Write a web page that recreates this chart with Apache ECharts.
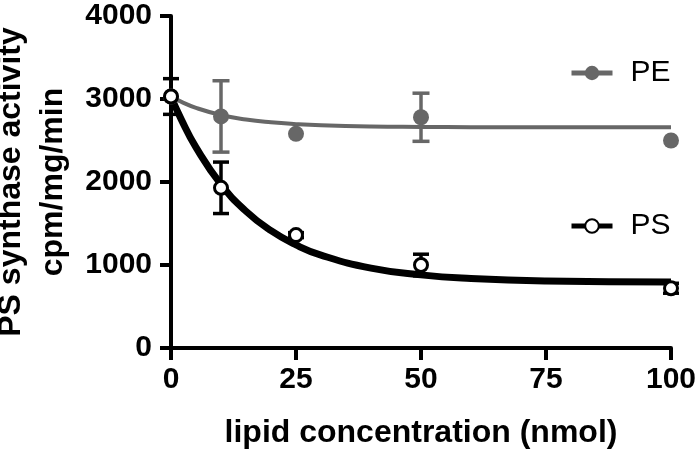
<!DOCTYPE html>
<html>
<head>
<meta charset="utf-8">
<script src="https://cdn.jsdelivr.net/npm/echarts@6/dist/echarts.min.js"></script>
<style>
  html, body { margin: 0; padding: 0; background: #fff; }
  #chart { width: 697px; height: 453px; }
</style>
</head>
<body>
<div id="chart"></div>
<script>
// measured points (mean +/- error)
var conc = [0, 10, 25, 50, 100];
var peMean = [3030, 2790, 2580, 2780, 2500];
var peErr = [0, 430, 0, 290, 0];
var psMean = [3030, 1930, 1360, 1000, 720];
var psErr = [215, 310, 30, 130, 60];

// fitted curves
var fitX = [0, 2, 5, 10, 15, 20, 25, 30, 40, 50, 60, 75, 100];
var peFit = [3030, 2968, 2893, 2807, 2753, 2719, 2697, 2683, 2669, 2664, 2661, 2660, 2660];
var psFit = [3030, 2761, 2417, 1971, 1648, 1413, 1242, 1119, 963, 881, 838, 808, 794];

var xTicks = [0, 25, 50, 75, 100];
var yTicks = [0, 1000, 2000, 3000, 4000];

var FONT = '"Liberation Sans", Arial, sans-serif';
var GRAY = '#676767';

function pairs(xs, ys) {
    return xs.map(function (x, i) { return [x, ys[i]]; });
}
function errData(mean, err) {
    var out = [];
    conc.forEach(function (x, i) {
        if (err[i] > 0) out.push([x, mean[i] - err[i], mean[i] + err[i]]);
    });
    return out;
}

function errorBar(color, capW, lw) {
    return function (params, api) {
        var x = api.value(0);
        var lo = api.coord([x, api.value(1)]);
        var hi = api.coord([x, api.value(2)]);
        var h = capW / 2;
        var style = { stroke: color, lineWidth: lw, fill: null };
        return {
            type: 'group',
            children: [
                { type: 'line', shape: { x1: lo[0], y1: lo[1], x2: hi[0], y2: hi[1] }, style: style },
                { type: 'line', shape: { x1: hi[0] - h, y1: hi[1], x2: hi[0] + h, y2: hi[1] }, style: style },
                { type: 'line', shape: { x1: lo[0] - h, y1: lo[1], x2: lo[0] + h, y2: lo[1] }, style: style }
            ]
        };
    };
}

var myChart = echarts.init(document.getElementById('chart'));
var option = {
    animation: false,
    backgroundColor: '#fff',
    textStyle: { fontFamily: FONT },
    grid: { left: 171, right: 26, top: 16, bottom: 105, outerBoundsMode: 'none', containLabel: false },
    legend: [
        {
            data: ['PE'], left: 564, top: 53,
            itemWidth: 41, itemHeight: 18,
            lineStyle: { width: 5 },
            textStyle: { fontSize: 30, color: '#000', fontFamily: FONT, padding: [0, 0, 0, 13] }
        },
        {
            data: ['PS'], left: 564, top: 206,
            itemWidth: 41, itemHeight: 17,
            lineStyle: { width: 5 },
            textStyle: { fontSize: 30, color: '#000', fontFamily: FONT, padding: [0, 0, 0, 13] }
        }
    ],
    xAxis: {
        type: 'value', min: 0, max: 100, interval: 25,
        name: 'lipid concentration (nmol)',
        nameLocation: 'middle', nameGap: 69,
        nameTextStyle: { fontSize: 32, fontWeight: 'bold', color: '#000', fontFamily: FONT },
        axisLine: { lineStyle: { color: '#000', width: 4 } },
        axisTick: { length: 12, lineStyle: { color: '#000', width: 4 } },
        axisLabel: {
            margin: 17, fontSize: 30, fontWeight: 'bold', color: '#000', fontFamily: FONT,
            customValues: xTicks
        },
        splitLine: { show: false }
    },
    yAxis: {
        type: 'value', min: 0, max: 4000, interval: 1000,
        name: 'PS synthase activity\ncpm/mg/min',
        nameLocation: 'middle', nameGap: 92, nameRotate: 90,
        nameTextStyle: { fontSize: 32, fontWeight: 'bold', color: '#000', lineHeight: 42, fontFamily: FONT },
        axisLine: { lineStyle: { color: '#000', width: 4 } },
        axisTick: { length: 11, lineStyle: { color: '#000', width: 4 } },
        axisLabel: {
            margin: 19, fontSize: 30, fontWeight: 'bold', color: '#000', fontFamily: FONT,
            customValues: yTicks,
            formatter: function (v) { return String(v); }
        },
        splitLine: { show: false }
    },
    series: [
        {
            name: 'PE err', type: 'custom', z: 2,
            renderItem: errorBar(GRAY, 17, 3.5),
            data: errData(peMean, peErr)
        },
        {
            name: 'PS err', type: 'custom', z: 2,
            renderItem: errorBar('#000', 16, 3.5),
            data: errData(psMean, psErr)
        },
        {
            name: 'PE', type: 'line', smooth: true, z: 3,
            symbol: 'circle', showSymbol: false,
            lineStyle: { color: GRAY, width: 4 },
            itemStyle: { color: GRAY },
            data: pairs(fitX, peFit)
        },
        {
            name: 'PS', type: 'line', smooth: true, z: 3,
            symbol: 'emptyCircle', showSymbol: false,
            lineStyle: { color: '#000', width: 7 },
            itemStyle: { color: '#000' },
            data: pairs(fitX, psFit)
        },
        {
            name: 'PE pts', type: 'scatter', z: 4,
            symbol: 'circle', symbolSize: 16,
            itemStyle: { color: GRAY, opacity: 1 },
            data: pairs(conc, peMean)
        },
        {
            name: 'PS pts', type: 'scatter', z: 5,
            symbol: 'circle', symbolSize: 13,
            itemStyle: { color: '#fff', borderColor: '#000', borderWidth: 3, opacity: 1 },
            data: pairs(conc, psMean)
        }
    ]
};
myChart.setOption(option);
</script>
</body>
</html>
